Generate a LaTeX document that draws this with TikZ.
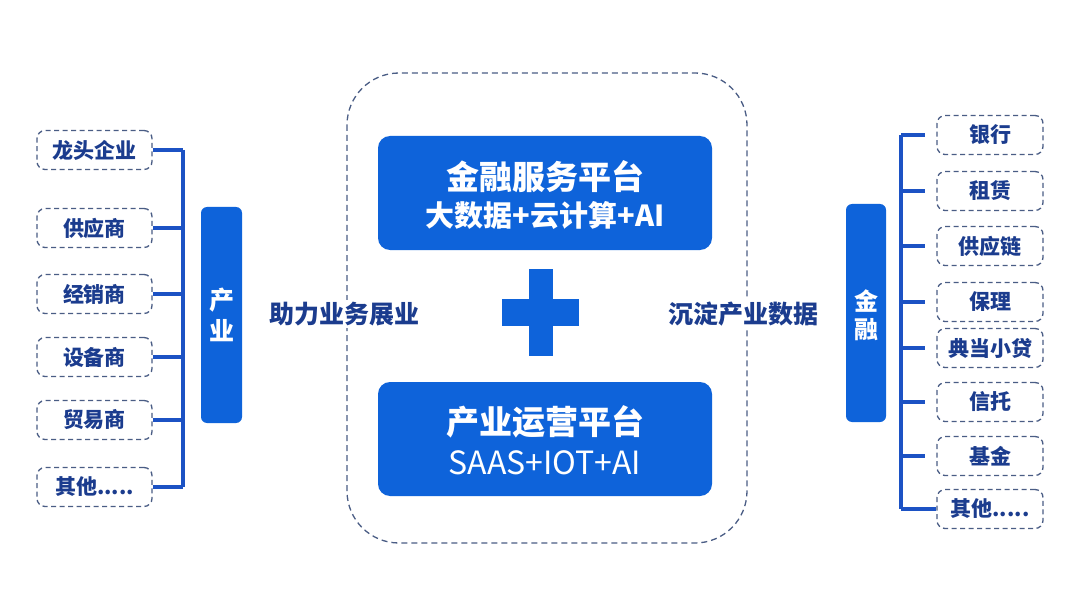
\documentclass[tikz,border=0pt]{standalone}
\usepackage{fontspec}
\setmainfont{Noto Sans CJK SC}
\begin{document}
\begin{tikzpicture}[x=1pt,y=-1pt,
  every node/.style={font=\bfseries},
  ditem/.style={draw=dashgray, dash pattern=on 5pt off 3.5pt, line width=1.3pt, rounded corners=8pt,
     minimum height=39pt, inner sep=0pt, text=navy, font=\bfseries\fontsize{21}{24}\selectfont, fill=white},
  litem/.style={ditem, minimum width=115pt},
  ritem/.style={ditem, minimum width=106pt},
  bus/.style={draw=lineblue, line width=3.5pt},
  bluebox/.style={fill=mainblue, rounded corners=12pt, inner sep=0pt, text=white},
  sidelabel/.style={fill=white, inner sep=2pt, text=navy, font=\bfseries\fontsize{25}{28}\selectfont}
]
\definecolor{mainblue}{HTML}{0E63DA}
\definecolor{lineblue}{HTML}{1C52C4}
\definecolor{navy}{HTML}{1B3C8E}
\definecolor{dashgray}{HTML}{4A5D85}
\useasboundingbox (0,0) rectangle (1080,607);
\fill[white] (0,0) rectangle (1080,607);

% central dashed frame
\draw[draw=dashgray, dash pattern=on 6pt off 4pt, line width=1.3pt, rounded corners=52pt] (347,73) rectangle (747,543);

% platform boxes
\node[bluebox, minimum width=334pt, minimum height=114pt] (fin) at (545,193) {};
\node[text=white, font=\bfseries\fontsize{33}{36}\selectfont] (finT) at (545,177) {金融服务平台};
\node[text=white, font=\bfseries\fontsize{29}{32}\selectfont] (finS) at (545,215) {大数据+云计算+AI};
\node[bluebox, minimum width=334pt, minimum height=114pt] (ind) at (545,439) {};
\node[text=white, font=\bfseries\fontsize{33}{36}\selectfont] (indT) at (545,422) {产业运营平台};
\node[text=white, font=\fontsize{32}{36}\selectfont] (indS) at (545,463) {SAAS+IOT+AI};

% plus sign
\fill[mainblue] (529,269) rectangle (553,356);
\fill[mainblue] (502,299) rectangle (579,326);
\coordinate (plus) at (541,312);

% side labels
\node[sidelabel] (help) at (344,314) {助力业务展业};
\node[sidelabel] (acc) at (743,314) {沉淀产业数据};

% industry column
\node[bluebox, rounded corners=6pt, minimum width=41pt, minimum height=216pt] (chan) at (221.5,315) {};
\node[text=white, font=\bfseries\fontsize{25}{28}\selectfont, align=center] (chanT) at (221.5,315) {产\\[3pt]业};

\node[litem] (l1) at (94.5,150) {龙头企业};
\node[litem] (l2) at (94.5,228) {供应商};
\node[litem] (l3) at (94.5,294) {经销商};
\node[litem] (l4) at (94.5,357) {设备商};
\node[litem] (l5) at (94.5,420) {贸易商};
\node[litem] (l6) at (94.5,487) {其他.....};
\coordinate (lbus) at (183,0);
\draw[bus] (l1.east -| lbus) -- (l6.east -| lbus);
\foreach \i in {1,...,6} {\draw[bus] (l\i.east) -- (l\i.east -| lbus);}

% finance column
\node[bluebox, rounded corners=6pt, minimum width=40pt, minimum height=218pt] (jr) at (866,313) {};
\node[text=white, font=\bfseries\fontsize{24}{28}\selectfont, align=center] (jrT) at (866,315) {金\\[0pt]融};

\node[ritem] (r1) at (990,135) {银行};
\node[ritem] (r2) at (990,191) {租赁};
\node[ritem] (r3) at (990,246) {供应链};
\node[ritem] (r4) at (990,302) {保理};
\node[ritem] (r5) at (990,348) {典当小贷};
\node[ritem] (r6) at (990,402) {信托};
\node[ritem] (r7) at (990,456) {基金};
\node[ritem] (r8) at (990,509) {其他.....};
\coordinate (rbus) at (901,0);
\draw[bus] (r1.west -| rbus) -- (r8.west -| rbus);
\foreach \i in {1,...,7} {\draw[bus, shorten >=11pt] (r\i.west -| rbus) -- (r\i.west);}
\draw[bus] (r8.west -| rbus) -- (r8.west);
\end{tikzpicture}
\end{document}
